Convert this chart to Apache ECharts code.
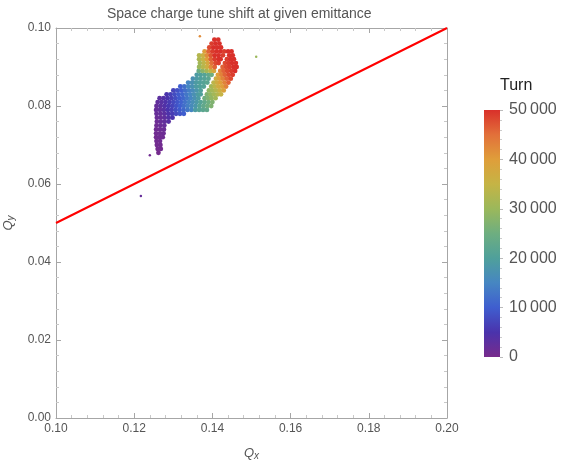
<!DOCTYPE html>
<html><head><meta charset="utf-8">
<script src="https://cdn.jsdelivr.net/npm/echarts@6/dist/echarts.min.js"></script>
<style>html,body{margin:0;padding:0;background:#fff}#c{width:561px;height:463px}</style>
</head><body><div id="c"></div>
<script>
const chartTitle = 'Space charge tune shift at given emittance';
const xMin = 0.10, xMax = 0.20, xStep = 0.02;
const yMin = 0.00, yMax = 0.10, yStep = 0.02;
const turnMin = 0, turnMax = 50000, turnStep = 10000;
const colorbarTitle = 'Turn';
const rainbowColors = ['#782B8C','#4A33AC','#3F5ECF','#4686C2','#4FA09B','#6EAE80','#9BB85B','#C5B445','#DF9E3A','#E2703A','#D9302A'];
const resonanceLine = [[0.10, 0.05], [0.20, 0.10]];

// [Qx, Qy, turn]
const tailPoints = [
[0.1262,0.0680,300],
[0.1260,0.0690,400],[0.1268,0.0690,500],
[0.1258,0.0700,500],[0.1267,0.0700,600],
[0.1257,0.0710,600],[0.1266,0.0710,800],
[0.1256,0.0720,700],[0.1265,0.0720,900],[0.1273,0.0720,1000],
[0.1256,0.0730,800],[0.1266,0.0730,1000],[0.1275,0.0730,1200],
[0.1256,0.0740,900],[0.1266,0.0740,1200],[0.1276,0.0740,1500],
[0.1257,0.0750,1000],[0.1267,0.0750,1500],[0.1277,0.0750,2000],
[0.1258,0.0760,1200],[0.1268,0.0760,1800],[0.1278,0.0760,2500],[0.1288,0.0760,3500],
[0.1258,0.0770,1500],[0.1268,0.0770,2000],[0.1278,0.0770,2800],[0.1288,0.0770,4000],[0.1298,0.0770,5000]
];
const bodyPoints = [
[0.1257,0.0780,1800],[0.1267,0.0780,2200],[0.1277,0.0780,3000],[0.1287,0.0780,4500],[0.1297,0.0780,6000],[0.1307,0.0780,7500],[0.1317,0.0780,9000],[0.1327,0.0780,10000],
[0.1256,0.0790,2000],[0.1266,0.0790,2500],[0.1276,0.0790,3500],[0.1286,0.0790,5000],[0.1296,0.0790,6500],[0.1306,0.0790,8000],[0.1316,0.0790,9500],[0.1326,0.0790,11000],[0.1336,0.0790,13000],[0.1346,0.0790,15000],
[0.1257,0.0800,2000],[0.1267,0.0800,3000],[0.1277,0.0800,4000],[0.1287,0.0800,5500],[0.1297,0.0800,7000],[0.1307,0.0800,8500],[0.1317,0.0800,10000],[0.1327,0.0800,12000],[0.1337,0.0800,14000],[0.1347,0.0800,16000],[0.1357,0.0800,18000],
[0.1260,0.0810,2500],[0.1270,0.0810,3500],[0.1280,0.0810,4500],[0.1290,0.0810,6000],[0.1300,0.0810,7500],[0.1310,0.0810,9000],[0.1320,0.0810,10500],[0.1330,0.0810,12500],[0.1340,0.0810,14500],[0.1350,0.0810,16500],[0.1360,0.0810,18500],
[0.1265,0.0820,3000],[0.1275,0.0820,4000],[0.1285,0.0820,5000],[0.1295,0.0820,6500],[0.1305,0.0820,8000],[0.1315,0.0820,9500],[0.1325,0.0820,11000],[0.1335,0.0820,13000],[0.1345,0.0820,15000],[0.1355,0.0820,17000],[0.1364,0.0820,19000],
[0.1283,0.0830,5000],[0.1293,0.0830,6500],[0.1303,0.0830,8000],[0.1313,0.0830,9500],[0.1323,0.0830,11000],[0.1333,0.0830,13000],[0.1343,0.0830,15000],[0.1353,0.0830,17000],[0.1363,0.0830,19000],[0.1370,0.0830,20000],
[0.1300,0.0840,7000],[0.1310,0.0840,8500],[0.1320,0.0840,10000],[0.1330,0.0840,12000],[0.1340,0.0840,14000],[0.1350,0.0840,16000],[0.1360,0.0840,18000],[0.1370,0.0840,20000],
[0.1318,0.0850,10000],[0.1328,0.0850,12000],[0.1338,0.0850,15000],[0.1348,0.0850,17000],[0.1358,0.0850,19000],[0.1368,0.0850,20000],[0.1378,0.0850,21000],
[0.1338,0.0860,15000],[0.1348,0.0860,17000],[0.1358,0.0860,19000],[0.1368,0.0860,20000],[0.1378,0.0860,21000],[0.1387,0.0860,22000],
[0.1350,0.0870,17000],[0.1360,0.0870,19000],[0.1370,0.0870,20000],[0.1380,0.0870,21000],[0.1390,0.0870,22000],
[0.1360,0.0880,19000],[0.1370,0.0880,20000],[0.1380,0.0880,21000],[0.1390,0.0880,23000],[0.1398,0.0880,25000]
];
const leftLobePoints = [
[0.1365,0.0890,24000],[0.1375,0.0890,28000],[0.1385,0.0890,31000],[0.1395,0.0890,34000],[0.1404,0.0890,38000],
[0.1366,0.0900,30000],[0.1376,0.0900,33000],[0.1386,0.0900,36000],[0.1396,0.0900,42000],[0.1406,0.0900,46000],
[0.1368,0.0910,31000],[0.1378,0.0910,34000],[0.1388,0.0910,38000],[0.1398,0.0910,45000],[0.1408,0.0910,48000],[0.1416,0.0910,49000],
[0.1366,0.0920,32000],[0.1376,0.0920,35000],[0.1386,0.0920,40000],[0.1396,0.0920,46000],[0.1406,0.0920,49000],[0.1416,0.0920,50000],[0.1421,0.0920,50000],
[0.1366,0.0930,33000],[0.1376,0.0930,36000],[0.1386,0.0930,42000],[0.1396,0.0930,47000],[0.1406,0.0930,50000],[0.1416,0.0930,50000],[0.1427,0.0930,49000],
[0.1380,0.0940,40000],[0.1390,0.0940,46000],[0.1400,0.0940,49000],[0.1410,0.0940,50000],[0.1420,0.0940,50000],[0.1430,0.0940,49000],
[0.1392,0.0950,48000],[0.1402,0.0950,50000],[0.1412,0.0950,50000],[0.1422,0.0950,50000],
[0.1398,0.0960,49000],[0.1408,0.0960,50000],[0.1418,0.0960,50000],
[0.1405,0.0970,50000],[0.1415,0.0970,50000]
];
const rightLobePoints = [
[0.1356,0.0790,19000],[0.1366,0.0790,21000],[0.1376,0.0790,22000],[0.1386,0.0790,23000],
[0.1367,0.0800,21000],[0.1377,0.0800,23000],[0.1387,0.0800,25000],[0.1397,0.0800,27000],
[0.1370,0.0810,21000],[0.1380,0.0810,23000],[0.1390,0.0810,25000],[0.1400,0.0810,27000],
[0.1380,0.0820,25000],[0.1389,0.0820,27000],[0.1398,0.0820,29000],[0.1408,0.0820,31000],
[0.1386,0.0830,27000],[0.1395,0.0830,29000],[0.1404,0.0830,31000],[0.1414,0.0830,33000],[0.1422,0.0830,35000],
[0.1391,0.0840,29000],[0.1400,0.0840,31000],[0.1409,0.0840,33000],[0.1419,0.0840,36000],[0.1429,0.0840,39000],
[0.1397,0.0850,31000],[0.1406,0.0850,34000],[0.1415,0.0850,37000],[0.1425,0.0850,40000],[0.1435,0.0850,43000],
[0.1403,0.0860,34000],[0.1412,0.0860,37000],[0.1421,0.0860,40000],[0.1431,0.0860,43000],[0.1441,0.0860,46000],
[0.1409,0.0870,37000],[0.1418,0.0870,40000],[0.1427,0.0870,43000],[0.1437,0.0870,46000],[0.1447,0.0870,48000],
[0.1414,0.0880,40000],[0.1423,0.0880,43000],[0.1432,0.0880,46000],[0.1442,0.0880,48000],[0.1452,0.0880,49000],
[0.1420,0.0890,43000],[0.1429,0.0890,46000],[0.1438,0.0890,48000],[0.1448,0.0890,49000],[0.1458,0.0890,50000],
[0.1426,0.0900,46000],[0.1435,0.0900,48000],[0.1444,0.0900,49000],[0.1454,0.0900,50000],[0.1462,0.0900,50000],
[0.1432,0.0910,48000],[0.1441,0.0910,49000],[0.1450,0.0910,50000],[0.1460,0.0910,50000],
[0.1437,0.0920,49000],[0.1446,0.0920,50000],[0.1455,0.0920,50000],
[0.1443,0.0930,50000],[0.1452,0.0930,50000],
[0.1440,0.0940,50000],[0.1449,0.0940,50000]
];
const strayPoints = [
[0.1217,0.0569,2000],[0.1240,0.0674,800],[0.1512,0.0926,30000],[0.1368,0.0979,42000]
];

const chart = echarts.init(document.getElementById('c'), null, {renderer: 'canvas'});
const frameColor = '#A6A6A6';
const labelColor = '#555555';
const fontFam = 'Liberation Sans, Arial, sans-serif';
const fmt2 = v => Number(v).toFixed(2);
const thin = v => { const s = String(Math.round(v)); return s.length > 3 ? s.slice(0, s.length - 3) + '\u2009' + s.slice(-3) : s; };

function frameAxis(extra) {
  return Object.assign({
    type: 'value',
    gridIndex: 0,
    axisLine: {show: true, onZero: false, lineStyle: {color: frameColor, width: 1}},
    axisTick: {show: true, inside: true, length: 5, lineStyle: {color: frameColor}},
    minorTick: {show: true, splitNumber: 5, length: 3, lineStyle: {color: '#C8C8C8'}},
    splitLine: {show: false},
    axisLabel: {show: false}
  }, extra);
}

const scatterStyle = (data, size) => ({
  type: 'scatter', xAxisIndex: 0, yAxisIndex: 0, data: data,
  symbol: 'circle', symbolSize: size || 4.8, itemStyle: {opacity: 1}, z: 3
});

const stops = rainbowColors.map((c, i) => ({offset: i / (rainbowColors.length - 1), color: c}));

chart.setOption({
  backgroundColor: '#ffffff',
  animation: false,
  title: {
    text: chartTitle, left: 102, top: 2,
    textStyle: {fontSize: 14, fontWeight: 'normal', color: labelColor, fontFamily: fontFam}
  },
  grid: [
    {left: 56, top: 28, right: 114, bottom: 45, outerBoundsMode: 'none', containLabel: false},
    {left: 484, top: 110, width: 16, height: 247, outerBoundsMode: 'none', containLabel: false}
  ],
  visualMap: {
    show: false, type: 'continuous', min: turnMin, max: turnMax, dimension: 2,
    seriesIndex: [0, 1, 2, 3, 4],
    inRange: {color: rainbowColors}
  },
  xAxis: [
    frameAxis({
      position: 'bottom', min: xMin, max: xMax, interval: xStep,
      axisLabel: {show: true, formatter: fmt2, fontSize: 12, color: labelColor, margin: 5, fontFamily: fontFam},
      name: '{q|Q}{s|x}', nameLocation: 'middle', nameGap: 27,
      nameTextStyle: {rich: {
        q: {fontSize: 13, fontStyle: 'italic', color: labelColor, fontFamily: fontFam},
        s: {fontSize: 10, fontStyle: 'italic', color: labelColor, verticalAlign: 'bottom', padding: [6, 0, 0, 0], fontFamily: fontFam}
      }}
    }),
    frameAxis({position: 'top', min: xMin, max: xMax, interval: xStep}),
    {type: 'category', gridIndex: 1, data: [''], show: false}
  ],
  yAxis: [
    frameAxis({
      position: 'left', min: yMin, max: yMax, interval: yStep,
      axisLabel: {show: true, formatter: fmt2, fontSize: 12, color: labelColor, margin: 5, fontFamily: fontFam},
      name: '{q|Q}{s|y}', nameLocation: 'middle', nameGap: 40, nameRotate: 90,
      nameTextStyle: {rich: {
        q: {fontSize: 13, fontStyle: 'italic', color: labelColor, fontFamily: fontFam},
        s: {fontSize: 10, fontStyle: 'italic', color: labelColor, verticalAlign: 'bottom', padding: [6, 0, 0, 0], fontFamily: fontFam}
      }}
    }),
    frameAxis({position: 'right', min: yMin, max: yMax, interval: yStep}),
    {
      type: 'value', gridIndex: 1, position: 'right', min: turnMin, max: turnMax, interval: turnStep,
      axisLine: {show: false},
      axisTick: {show: true, inside: false, length: 3, lineStyle: {color: '#BBBBBB'}},
      minorTick: {show: true, splitNumber: 5, length: 2, lineStyle: {color: '#CCCCCC'}},
      splitLine: {show: false},
      axisLabel: {show: true, formatter: thin, fontSize: 16, color: labelColor, margin: 9, fontFamily: fontFam},
      name: colorbarTitle, nameLocation: 'end', nameGap: 16,
      nameTextStyle: {fontSize: 16, color: '#222222', align: 'left', fontFamily: fontFam}
    }
  ],
  series: [
    scatterStyle(tailPoints),
    scatterStyle(bodyPoints),
    scatterStyle(leftLobePoints),
    scatterStyle(rightLobePoints),
    scatterStyle(strayPoints, 2.5),
    {
      type: 'line', xAxisIndex: 0, yAxisIndex: 0, data: resonanceLine,
      symbol: 'none', lineStyle: {color: '#FF0000', width: 2}, z: 4, silent: true
    },
    {
      type: 'bar', xAxisIndex: 2, yAxisIndex: 2, data: [turnMax], barWidth: '100%',
      itemStyle: {color: new echarts.graphic.LinearGradient(0, 1, 0, 0, stops)}, silent: true
    }
  ]
});
</script>
</body></html>
